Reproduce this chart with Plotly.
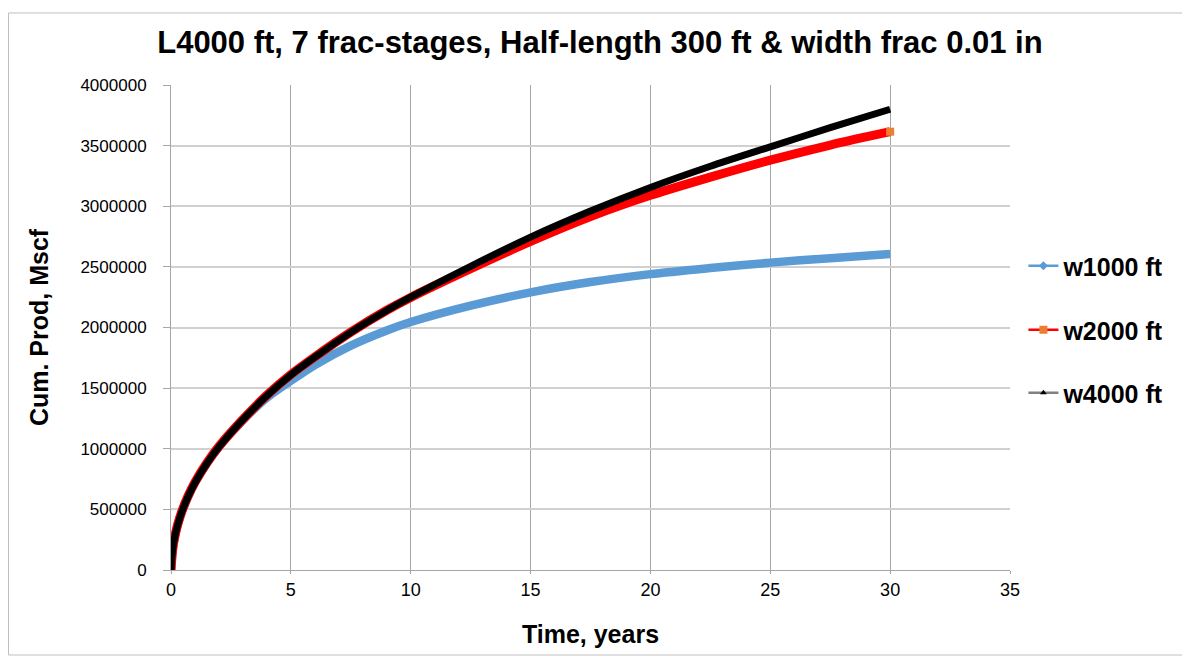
import plotly.graph_objects as go

# ---- data ----
time_years = [0, 0.05, 0.1, 0.2, 0.3, 0.45, 0.7, 1, 1.5, 2, 2.9, 4, 5, 6, 7.5, 9, 10,
              12.5, 15, 17.5, 20, 22.5, 25, 27.5, 30]

w1000 = [0, 130000, 210000, 310000, 385000, 478000, 600000, 720000, 880000,
         1015000, 1215000, 1420000, 1560000, 1690000, 1850000, 1975000, 2045000,
         2180000, 2290000, 2375000, 2440000, 2490000, 2535000, 2572000, 2607000]

w2000 = [0, 133000, 214000, 314000, 390000, 483000, 605000, 725000, 885000,
         1020000, 1222000, 1442000, 1612000, 1758000, 1962000, 2142000, 2248000,
         2485000, 2710000, 2915000, 3090000, 3240000, 3380000, 3505000, 3615000]

w4000 = [0, 130000, 210000, 310000, 385000, 478000, 600000, 720000, 880000,
         1015000, 1220000, 1438000, 1608000, 1755000, 1960000, 2140000, 2250000,
         2505000, 2745000, 2960000, 3155000, 3330000, 3490000, 3648000, 3800000]

series_names = ["w1000 ft", "w2000 ft", "w4000 ft"]
x_ticks = [0, 5, 10, 15, 20, 25, 30, 35]
y_ticks = [0, 500000, 1000000, 1500000, 2000000, 2500000, 3000000, 3500000, 4000000]

title_text = "L4000 ft, 7 frac-stages, Half-length 300 ft & width frac 0.01 in"
x_title = "Time, years"
y_title = "Cum. Prod, Mscf"

BLUE = "#5b9bd5"
RED = "#ff0000"
BLACK = "#000000"
ORANGE = "#ed7d31"

FONT = "Liberation Sans, Arial, sans-serif"
NARROW = "Liberation Sans Narrow, Arial Narrow, Liberation Sans, sans-serif"

fig = go.Figure()

# thick data curves (dense markers in the original look like thick bands)
fig.add_trace(go.Scatter(x=time_years, y=w1000, mode="lines",
                         line=dict(color=BLUE, width=8.5, shape="spline", smoothing=0.8),
                         showlegend=False, hoverinfo="x+y"))
fig.add_trace(go.Scatter(x=time_years, y=w2000, mode="lines",
                         line=dict(color=RED, width=9, shape="spline", smoothing=0.8),
                         showlegend=False, hoverinfo="x+y"))
fig.add_trace(go.Scatter(x=time_years, y=w4000, mode="lines",
                         line=dict(color=BLACK, width=7, shape="spline", smoothing=0.8),
                         showlegend=False, hoverinfo="x+y"))

# end-point marker of the red series
fig.add_trace(go.Scatter(x=time_years[-1:], y=w2000[-1:], mode="markers",
                         marker=dict(symbol="square", size=8, color=ORANGE,
                                     line=dict(color=ORANGE, width=0)),
                         showlegend=False, hoverinfo="skip", cliponaxis=False))

# legend entries (thin line + marker, like the original legend)
leg_styles = [
    (BLUE, "diamond", BLUE, 7, "legend"),
    (RED, "square", ORANGE, 8, "legend2"),
    ("#808080", "triangle-up", BLACK, 6, "legend3"),
]
for name, (lc, sym, mc, ms, lg) in zip(series_names, leg_styles):
    fig.add_trace(go.Scatter(x=[None], y=[None], mode="lines+markers",
                             name="<b>" + name + "</b>",
                             line=dict(color=lc, width=2.5),
                             marker=dict(symbol=sym, size=ms, color=mc),
                             legend=lg, showlegend=True))

leg_font = dict(family=FONT, size=25, color="#000000")
leg_common = dict(x=1.016, xanchor="left", yanchor="middle", font=leg_font,
                  bgcolor="rgba(0,0,0,0)", itemwidth=30, borderwidth=0)

fig.update_layout(
    width=1182, height=655,
    paper_bgcolor="white", plot_bgcolor="white",
    margin=dict(l=163, r=180, t=77, b=93),
    title=dict(text="<b>" + title_text + "</b>", x=0.5008, xref="container",
               xanchor="center", y=0.948, yref="container", yanchor="middle",
               font=dict(family=FONT, size=31, color="#000000")),
    legend=dict(y=0.6268, **leg_common),
    legend2=dict(y=0.4948, **leg_common),
    legend3=dict(y=0.3649, **leg_common),
    xaxis=dict(range=[0, 35], tickmode="array", tickvals=x_ticks,
               ticktext=[str(v) for v in x_ticks],
               showgrid=True, gridcolor="#a6a6a6", gridwidth=1,
               zeroline=False, showline=True, linecolor="#a6a6a6", linewidth=1,
               ticks="outside", ticklen=3, tickcolor="#a6a6a6",
               tickfont=dict(family=FONT, size=18, color="#000000"),
               title=dict(text="<b>" + x_title + "</b>", standoff=26,
                          font=dict(family=FONT, size=25, color="#000000"))),
    yaxis=dict(range=[0, 4000000], tickmode="array", tickvals=y_ticks,
               ticktext=[str(v) for v in y_ticks],
               showgrid=True, gridcolor="#d0d0d0", gridwidth=1.5,
               zeroline=False, showline=True, linecolor="#a6a6a6", linewidth=1,
               ticks="outside", ticklen=7, tickcolor="#a6a6a6",
               ticklabelstandoff=13,
               tickfont=dict(family=FONT, size=17, color="#000000"),
               title=dict(text="<b>" + y_title + "</b>", standoff=24,
                          font=dict(family=NARROW, size=25, color="#000000"))),
)

# chart-area border
fig.add_shape(type="rect", xref="paper", yref="paper",
              x0=-0.1937, x1=1.2062, y0=-0.1753, y1=1.1485,
              line=dict(color="#bfbfbf", width=1), fillcolor="rgba(0,0,0,0)",
              layer="below")

fig.write_html("out.html")
